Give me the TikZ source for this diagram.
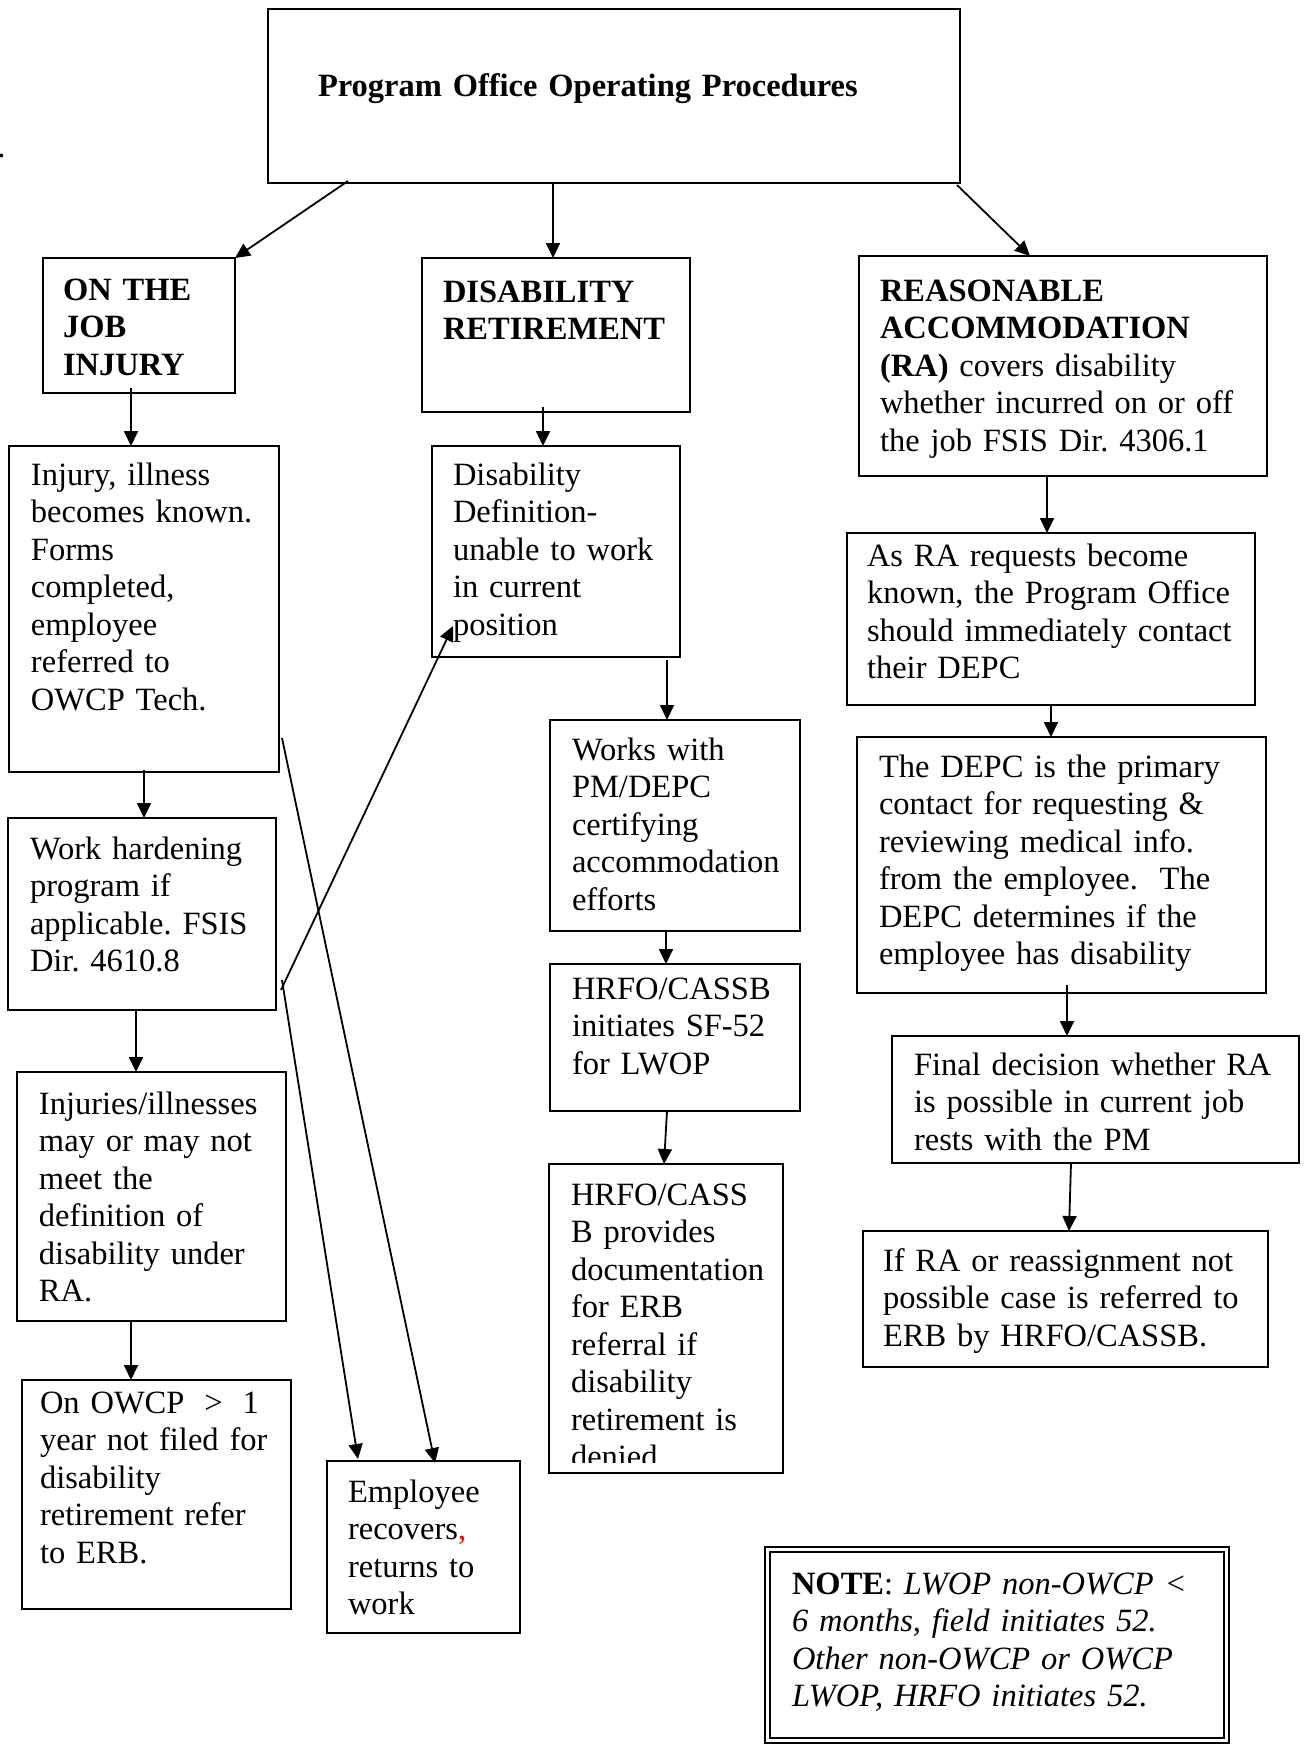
\documentclass[tikz,border=0pt]{standalone}
\usepackage{fontspec}
\setmainfont{Liberation Serif}
\frenchspacing
\usetikzlibrary{arrows.meta,calc}

\tikzset{
  box/.style={draw, line width=1pt, rectangle, inner sep=0pt, outer sep=0pt},
  txt/.style={inner sep=0pt, outer sep=0pt, text width=220pt, align=left,
    font=\fontsize{16.25}{18.75}\selectfont},
  arr/.style={-{Triangle[length=7.5pt,width=7pt]}, line width=0.9pt},
}
% box from top-left to bottom-right corner, in pixels
\newcommand\mkbox[5]{\node[box, anchor=north west, minimum width={(#4-#2)*0.5pt},
  minimum height={(#5-#3)*0.5pt}] (#1) at (#2,#3) {};}
% text block, first baseline at (x,y)
\newcommand\mktext[4]{\node[txt, anchor=base west] (#1) at (#2,#3) {#4};}

\begin{document}
\begin{tikzpicture}[x=0.5pt,y=-0.5pt]
\path[use as bounding box, fill=white] (0,0) rectangle (1307,1746);
\node[inner sep=0pt, anchor=base west, font=\fontsize{16.25}{18.75}\selectfont] (dot) at (-3,157) {.};

% boxes
\mkbox{top}{268}{9}{960}{183}
\mkbox{onj}{43}{258}{235}{393}
\mkbox{dis}{422}{258}{690}{412}
\mkbox{ra}{859}{256}{1267}{476}
\mkbox{inj}{9}{446}{279}{772}
\mkbox{disdef}{432}{446}{680}{657}
\mkbox{asra}{847}{533}{1255}{705}
\mkbox{wh}{8}{818}{276}{1010}
\mkbox{works}{550}{720}{800}{931}
\mkbox{depc}{857}{737}{1266}{993}
\mkbox{hrfo1}{550}{964}{800}{1111}
\mkbox{injs}{17}{1072}{286}{1321}
\mkbox{final}{892}{1036}{1299}{1163}
\mkbox{hrfo2}{549}{1164}{783}{1473}
\mkbox{ifra}{863}{1231}{1268}{1367}
\mkbox{owcp}{22}{1380}{291}{1609}
\mkbox{emp}{327}{1461}{520}{1633}
\node[box, line width=1.3pt, anchor=north west, minimum width={464*0.5pt},
  minimum height={196*0.5pt}] (note) at (765,1547) {};
\draw[line width=0.6pt] ($(note.north west)+(5,5)$) rectangle ($(note.south east)+(-5,-5)$);

% texts
\node[txt, text width=320pt, anchor=base west] (title) at (318,96) {\textbf{Program Office Operating Procedures}};
\mktext{onj-t}{63}{300}{\textbf{ON THE\\JOB\\INJURY}}
\mktext{dis-t}{443}{302}{\textbf{DISABILITY\\RETIREMENT}}
\mktext{ra-t}{880}{301}{\textbf{REASONABLE\\ACCOMMODATION\\(RA)} covers disability\\whether incurred on or off\\the job FSIS Dir. 4306.1}
\mktext{inj-t}{31}{485}{Injury, illness\\becomes known.\\Forms\\completed,\\employee\\referred to\\OWCP Tech.}
\mktext{disdef-t}{453}{485}{Disability\\Definition-\\unable to work\\in current\\position}
\mktext{asra-t}{867}{566}{As RA requests become\\known, the Program Office\\should immediately contact\\their DEPC}
\mktext{wh-t}{30}{859}{Work hardening\\program if\\applicable. FSIS\\Dir. 4610.8}
\mktext{works-t}{572}{760}{Works with\\PM/DEPC\\certifying\\accommodation\\efforts}
\mktext{depc-t}{879}{777}{The DEPC is the primary\\contact for requesting \&\\reviewing medical info.\\from the employee.\ \ The\\DEPC determines if the\\employee has disability}
\mktext{hrfo1-t}{572}{999}{HRFO/CASSB\\initiates SF-52\\for LWOP}
\mktext{injs-t}{39}{1114}{Injuries/illnesses\\may or may not\\meet the\\definition of\\disability under\\RA.}
\mktext{final-t}{914}{1075}{Final decision whether RA\\is possible in current job\\rests with the PM}
\begin{scope}
  \clip (hrfo2.north west) rectangle ($(hrfo2.south east)+(0,-11)$);
  \mktext{hrfo2-t}{571}{1205}{HRFO/CASS\\B provides\\documentation\\for ERB\\referral if\\disability\\retirement is\\denied}
\end{scope}
\mktext{ifra-t}{883}{1271}{If RA or reassignment not\\possible case is referred to\\ERB by HRFO/CASSB.}
\mktext{owcp-t}{40}{1413}{On OWCP\hspace{.28em} >\hspace{.28em} 1\\year not filed for\\disability\\retirement refer\\to ERB.}
\mktext{emp-t}{348}{1502}{Employee\\recovers{\color{red},}\\returns to\\work}
\mktext{note-t}{792}{1594}{\textbf{NOTE}: \textit{LWOP non-OWCP <}\\\textit{6 months, field initiates 52.}\\\textit{Other non-OWCP or OWCP}\\\textit{LWOP, HRFO initiates 52.}}

% connectors
\draw[arr] ($(top.south west)+(80,-2)$) -- (onj.north east);
\draw[arr] ($(top.south west)+(285,0)$) -- ($(dis.north west)+(131,0)$);
\draw[arr] ($(top.south east)+(-3,2)$) -- ($(ra.north west)+(171,0)$);
\draw[arr] ($(onj.south west)+(88,-5)$) -- ($(inj.north west)+(122,0)$);
\draw[arr] ($(dis.south west)+(121,-5)$) -- ($(disdef.north west)+(111,0)$);
\draw[arr] ($(ra.south west)+(188,0)$) -- ($(asra.north west)+(200,0)$);
\draw[arr] ($(inj.south west)+(135,-2)$) -- ($(wh.north west)+(136,0)$);
\draw[arr] ($(disdef.south west)+(235,3)$) -- ($(works.north west)+(117,0)$);
\draw[arr] ($(asra.south west)+(204,0)$) -- ($(depc.north west)+(194,0)$);
\draw[arr] ($(wh.south west)+(128,0)$) -- ($(injs.north west)+(119,0)$);
\draw[arr] ($(works.south west)+(116,0)$) -- ($(hrfo1.north west)+(116,0)$);
\draw[arr] ($(depc.south west)+(210,-8)$) -- ($(final.north west)+(175,0)$);
\draw[arr] ($(injs.south west)+(114,0)$) -- ($(owcp.north west)+(109,0)$);
\draw[arr] ($(hrfo1.south west)+(117,0)$) -- ($(hrfo2.north west)+(115,0)$);
\draw[arr] ($(final.south west)+(179,0)$) -- ($(ifra.north west)+(206,0)$);
\draw[arr] ($(wh.north east)+(5,172)$) -- ($(disdef.south west)+(21,-31)$);
\draw[arr] ($(inj.north east)+(3,292)$) -- ($(emp.north west)+(108,2)$);
\draw[arr] ($(wh.north east)+(6,162)$) -- ($(emp.north west)+(31,-2)$);
\end{tikzpicture}
\end{document}
